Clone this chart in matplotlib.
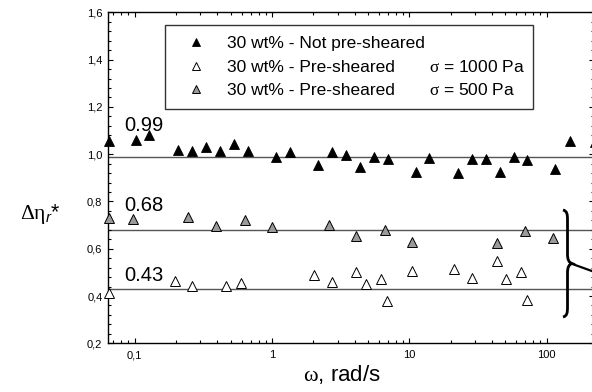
import matplotlib
matplotlib.use("Agg")
import matplotlib.pyplot as plt
from matplotlib.lines import Line2D
from matplotlib.path import Path
from matplotlib.patches import PathPatch
from matplotlib.ticker import FixedLocator, FuncFormatter, MultipleLocator, AutoMinorLocator

plt.rcParams['font.family'] = ['Liberation Sans', 'DejaVu Sans']
plt.rcParams['mathtext.fontset'] = 'custom'
plt.rcParams['mathtext.rm'] = 'Liberation Serif'
plt.rcParams['mathtext.it'] = 'Liberation Sans:italic'

# 30 wt% - not pre-sheared
omega_ns = [0.0645, 0.103, 0.128, 0.206, 0.260, 0.329, 0.416, 0.526, 0.665, 1.06, 1.35,
            2.15, 2.72, 3.44, 4.36, 5.51, 6.97, 11.1, 14.0, 22.6, 28.5, 36.1, 45.7,
            57.8, 72.2, 115.6, 148.0, 225.0]
eta_ns = [1.056, 1.060, 1.081, 1.017, 1.013, 1.029, 1.014, 1.045, 1.014, 0.990, 1.011,
          0.955, 1.008, 0.996, 0.947, 0.990, 0.979, 0.924, 0.985, 0.920, 0.979, 0.979,
          0.924, 0.987, 0.976, 0.937, 1.055, 1.050]

# 30 wt% - pre-sheared, sigma = 1000 Pa
omega_1000 = [0.0645, 0.195, 0.261, 0.46, 0.598, 2.02, 2.72, 4.12, 4.82, 6.23, 6.89,
              10.5, 21.2, 28.4, 43.2, 50.5, 65.3, 72.2]
eta_1000 = [0.414, 0.464, 0.444, 0.444, 0.455, 0.490, 0.461, 0.502, 0.452, 0.470, 0.380,
            0.506, 0.516, 0.476, 0.546, 0.473, 0.502, 0.385]

# 30 wt% - pre-sheared, sigma = 500 Pa
omega_500 = [0.0645, 0.097, 0.246, 0.394, 0.632, 1.0, 2.59, 4.12, 6.6, 10.5, 43.2, 69.5, 110.6]
eta_500 = [0.729, 0.726, 0.733, 0.695, 0.722, 0.694, 0.701, 0.652, 0.680, 0.628, 0.625,
           0.674, 0.645]

# mean levels
levels = [0.99, 0.68, 0.43]
level_labels = ["0.99", "0.68", "0.43"]

legend_labels = ["30 wt% - Not pre-sheared", "30 wt% - Pre-sheared", "30 wt% - Pre-sheared"]
stress_labels = [r"$\mathrm{\sigma}$ = 1000 Pa", r"$\mathrm{\sigma}$ = 500 Pa"]

x_major = [0.1, 1, 10, 100]
x_major_labels = ["0,1", "1", "10", "100"]

W, H = 592, 392
fig = plt.figure(figsize=(W / 100, H / 100), dpi=100)
ax_l, ax_r, ax_t, ax_b = 108, 594, 12.3, 343.3
ax = fig.add_axes([ax_l / W, 1 - ax_b / H, (ax_r - ax_l) / W, (ax_b - ax_t) / H])

ax.set_xscale('log')
ax.set_xlim(0.0639, 221.0)
ax.set_ylim(0.2, 1.6)

line_color = '#555555'
for lv in levels:
    ax.axhline(lv, color=line_color, lw=1.0, zorder=1)

ms = 6.5
ax.plot(omega_ns, eta_ns, ls='none', marker='^', ms=ms, mfc='black', mec='black',
        mew=0.6, clip_on=False, zorder=3)
ax.plot(omega_1000, eta_1000, ls='none', marker='^', ms=ms, mfc='white', mec='black',
        mew=0.7, clip_on=False, zorder=3)
ax.plot(omega_500, eta_500, ls='none', marker='^', ms=ms, mfc='#9a9a9a', mec='black',
        mew=0.7, clip_on=False, zorder=3)

# level annotations
label_y = [1.098, 0.761, 0.462]
for txt, yy in zip(level_labels, label_y):
    ax.text(0.0844, yy, txt, fontsize=14.5, ha='left', va='baseline', zorder=4)

# axes ticks
ax.xaxis.set_major_locator(FixedLocator(x_major))
ax.xaxis.set_major_formatter(FuncFormatter(
    lambda v, p: x_major_labels[x_major.index(v)] if v in x_major else ''))
minor = [k * 10.0 ** e for e in range(-2, 2) for k in range(2, 10)]
minor = [m for m in minor if 0.0639 <= m <= 100]
ax.xaxis.set_minor_locator(FixedLocator(minor))
ax.xaxis.set_minor_formatter(FuncFormatter(lambda v, p: ''))
ax.yaxis.set_major_locator(MultipleLocator(0.2))
ax.yaxis.set_minor_locator(AutoMinorLocator(5))
ax.yaxis.set_major_formatter(FuncFormatter(lambda v, p: f"{v:.1f}".replace('.', ',')))

ax.tick_params(which='both', direction='in', top=True, right=True, width=0.8,
               labelsize=8)
ax.tick_params(which='major', length=3.5)
ax.tick_params(which='minor', length=2)
ax.tick_params(axis='y', pad=4)
ax.tick_params(axis='x', pad=5)
for sp in ax.spines.values():
    sp.set_linewidth(1.0)

# legend
handles = [
    Line2D([], [], ls='none', marker='^', ms=6, mfc='black', mec='black', mew=0.6),
    Line2D([], [], ls='none', marker='^', ms=6, mfc='white', mec='black', mew=0.7),
    Line2D([], [], ls='none', marker='^', ms=6, mfc='#9a9a9a', mec='black', mew=0.7),
]
lg_l, lg_r, lg_t = 165.3, 533.3, 25.0
leg = ax.legend(handles, legend_labels, loc='upper left',
                bbox_to_anchor=(lg_l / W, 1 - lg_t / H - 0.3, (lg_r - lg_l) / W, 0.3),
                bbox_transform=fig.transFigure, mode='expand', borderaxespad=0,
                fontsize=12.5, frameon=True, fancybox=False, framealpha=1,
                edgecolor='#333333', borderpad=0.65, labelspacing=0.46,
                handlelength=2.2, handletextpad=0.7)
leg.get_frame().set_linewidth(1.0)

# stress column of the legend, aligned with its rows
fig.canvas.draw()
renderer = fig.canvas.get_renderer()
for t, s in zip(leg.get_texts()[1:], stress_labels):
    bb = t.get_window_extent(renderer)
    fig.text((bb.x0 + 202.4) / W, bb.y0 / H, s, fontsize=12.5, ha='left', va='bottom')

# curly brace grouping the pre-sheared data
def px(x, y):
    return ((x - ax_l) / (ax_r - ax_l), (ax_b - y) / (ax_b - ax_t))

brace_pts = [(563, 210), (567, 211), (567.5, 214), (567.5, 220), (567.5, 254),
             (567.5, 260), (569, 262.5), (572, 263.5),
             (569, 264.5), (567.5, 267), (567.5, 273), (567.5, 307),
             (567.5, 313), (567, 316), (563, 317)]
codes = [Path.MOVETO, Path.CURVE4, Path.CURVE4, Path.CURVE4, Path.LINETO,
         Path.CURVE4, Path.CURVE4, Path.CURVE4,
         Path.CURVE4, Path.CURVE4, Path.CURVE4, Path.LINETO,
         Path.CURVE4, Path.CURVE4, Path.CURVE4]
brace = PathPatch(Path([px(*p) for p in brace_pts], codes), transform=ax.transAxes,
                  fill=False, lw=2.0, color='black', clip_on=False, zorder=5)
ax.add_patch(brace)
x0, y0 = px(571, 263.5)
x1, y1 = px(596, 272.5)
ax.plot([x0, x1], [y0, y1], transform=ax.transAxes, color='black', lw=1.6,
        clip_on=False, zorder=5)

# axis titles
fig.text(40 / W, 1 - 214 / H, r"$\mathrm{\Delta\eta}_{r}$*", fontsize=15.5,
         ha='center', va='center')
fig.text(342 / W, 1 - 375 / H, r"$\mathrm{\omega}$, rad/s", fontsize=16,
         ha='center', va='center')

fig.savefig("out.png", dpi=100)
